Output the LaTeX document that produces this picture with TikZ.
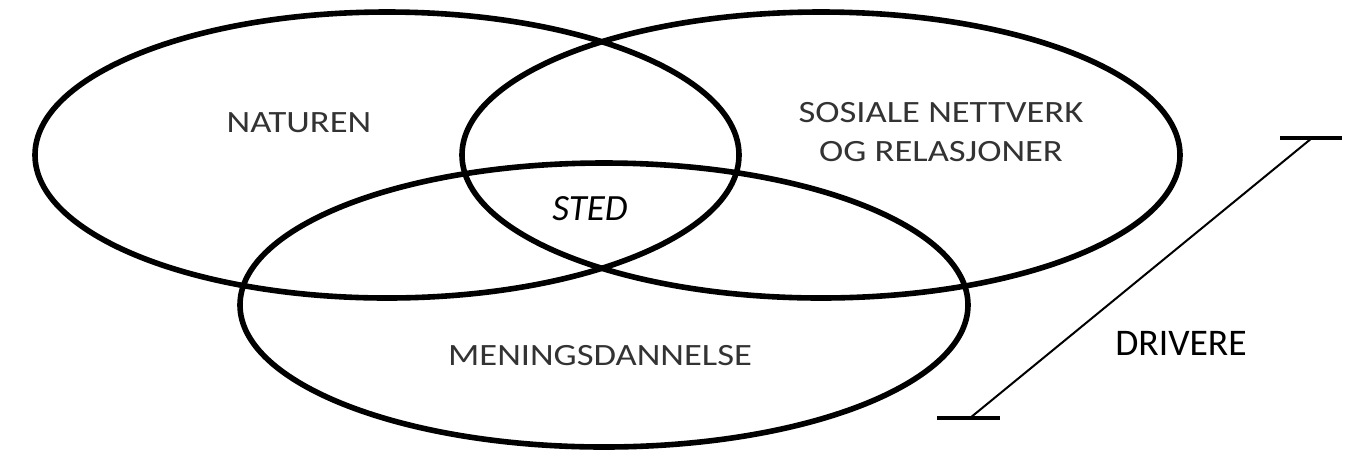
\documentclass[tikz,border=0pt]{standalone}
\usepackage{fontspec}
\setmainfont{Carlito}
\newfontfamily\widefont[FakeStretch=1.18]{Carlito}
\usetikzlibrary{positioning}

\tikzset{
  ring/.style={line width=2.8pt},
  area/.style={font=\widefont\fontsize{15.5}{19.5}\selectfont, text=black!80, align=center, inner sep=0pt},
  core/.style={font=\itshape\fontsize{18.5}{22}\selectfont, inner sep=0pt},
  span/.style={line width=1pt},
  tick/.style={line width=1.6pt}
}

\begin{document}
\begin{tikzpicture}[x=0.5pt,y=-0.5pt]
\useasboundingbox (0,0) rectangle (1351,452);

% the three fields
\draw[ring] (387,155) ellipse [x radius=352, y radius=143];
\draw[ring] (821,155) ellipse [x radius=359, y radius=143];
\draw[ring] (604,305) ellipse [x radius=364, y radius=142];

\node[area] (natur) at (299,123) {NATUREN};
\node[area] (sosial) at (941,132) {SOSIALE NETTVERK\\OG RELASJONER};
\node[area] (mening) at (600,356) {MENINGSDANNELSE};
\node[core] (sted) at (590,209) {STED};

% drivers
\coordinate (top) at (1312,138);
\coordinate (bot) at (970,418);
\coordinate (topL) at (1280,138);
\coordinate (topR) at (1342,138);
\coordinate (botL) at (937,418);
\coordinate (botR) at (1000,418);
\draw[span] (bot) -- (top);
\draw[tick] (topL) -- (topR);
\draw[tick] (botL) -- (botR);
\node[font=\fontsize{18.8}{22}\selectfont, inner sep=0pt] (drive) at (1181,343) {DRIVERE};
\end{tikzpicture}
\end{document}
